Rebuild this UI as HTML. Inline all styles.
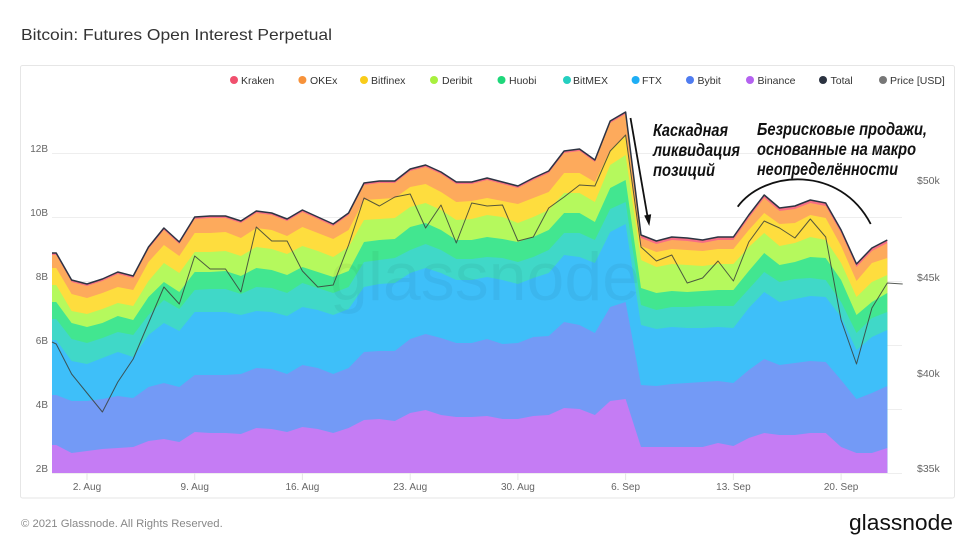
<!DOCTYPE html>
<html><head><meta charset="utf-8"><style>
html,body{margin:0;padding:0;background:#fff;}
svg{display:block;}
text{font-family:"Liberation Sans",Arial,sans-serif;}
</style></head><body>
<svg width="974" height="550" viewBox="0 0 974 550" xmlns="http://www.w3.org/2000/svg">
<rect x="0" y="0" width="974" height="550" fill="#fff"/>
<text x="21" y="40" font-size="16" fill="#333" textLength="311" lengthAdjust="spacingAndGlyphs">Bitcoin: Futures Open Interest Perpetual</text>
<rect x="20.5" y="65.5" width="934" height="432.5" rx="2" fill="#fff" stroke="#e6e6e6"/>

<!-- legend -->
<g font-size="10.5" fill="#333">
<circle cx="234" cy="80" r="4" fill="#f0506e"/><text x="241" y="84">Kraken</text>
<circle cx="302.4" cy="80" r="4" fill="#f7923a"/><text x="310" y="84">OKEx</text>
<circle cx="364" cy="80" r="4" fill="#f9cc1a"/><text x="371" y="84">Bitfinex</text>
<circle cx="434" cy="80" r="4" fill="#a8f03e"/><text x="442" y="84">Deribit</text>
<circle cx="501.5" cy="80" r="4" fill="#1ed77a"/><text x="509" y="84">Huobi</text>
<circle cx="567" cy="80" r="4" fill="#25cfc0"/><text x="573" y="84">BitMEX</text>
<circle cx="635.6" cy="80" r="4" fill="#1eaef5"/><text x="642" y="84">FTX</text>
<circle cx="690" cy="80" r="4" fill="#4f7cf0"/><text x="697.5" y="84">Bybit</text>
<circle cx="750" cy="80" r="4" fill="#b462f0"/><text x="757.5" y="84">Binance</text>
<circle cx="823" cy="80" r="4" fill="#2b3240"/><text x="830.5" y="84">Total</text>
<circle cx="883" cy="80" r="4" fill="#777"/><text x="890" y="84">Price [USD]</text>
</g>

<!-- grid -->
<g stroke="#eeeeee" stroke-width="1">
<line x1="52" y1="153.5" x2="902" y2="153.5"/>
<line x1="52" y1="217.5" x2="902" y2="217.5"/>
<line x1="52" y1="281.5" x2="902" y2="281.5"/>
<line x1="52" y1="345.5" x2="902" y2="345.5"/>
<line x1="52" y1="409.5" x2="902" y2="409.5"/>
<line x1="52" y1="473.5" x2="902" y2="473.5"/>
</g>
<g stroke="#e6e6e6" stroke-width="1">
<line x1="87" y1="473" x2="87" y2="480"/>
<line x1="194.7" y1="473" x2="194.7" y2="480"/>
<line x1="302.4" y1="473" x2="302.4" y2="480"/>
<line x1="410.2" y1="473" x2="410.2" y2="480"/>
<line x1="517.9" y1="473" x2="517.9" y2="480"/>
<line x1="625.6" y1="473" x2="625.6" y2="480"/>
<line x1="733.4" y1="473" x2="733.4" y2="480"/>
<line x1="841.1" y1="473" x2="841.1" y2="480"/>
</g>

<!-- areas -->
<path fill="#f76f84" d="M52,473 L52,253 56.2,253 71.6,280 87,284 102.4,279 117.8,272 133.2,276 148.5,247 163.9,228 179.3,242 194.7,217 210.1,216 225.5,216 240.9,221 256.3,211 271.7,213 287.1,219 302.4,210 317.8,217 333.2,224 348.6,213 364,183 379.4,181 394.8,181 410.2,169 425.6,165 441,172 456.3,182 471.7,182 487.1,178 502.5,182 517.9,186 533.3,178 548.7,171 564.1,151 579.5,149 594.9,160 610.2,121 625.6,112 641,235 656.4,241 671.8,237 687.2,238 702.6,240 718,237 733.4,237 748.8,215 764.2,195 779.5,208 794.9,206 810.3,200 825.7,203 841.1,230 856.5,264 871.9,248 887.3,240 L887.3,473Z"/>
<path fill="#fdaa5c" d="M52,473 L52,255 56.2,255 71.6,282 87,286 102.4,281 117.8,274 133.2,278 148.5,249 163.9,230 179.3,244 194.7,219 210.1,218 225.5,218 240.9,223 256.3,213 271.7,215 287.1,221 302.4,212 317.8,219 333.2,226 348.6,215 364,185 379.4,183 394.8,183 410.2,171 425.6,167 441,174 456.3,184 471.7,184 487.1,180 502.5,184 517.9,188 533.3,180 548.7,173 564.1,153 579.5,151 594.9,162 610.2,123 625.6,114 641,238 656.4,244 671.8,240 687.2,241 702.6,243 718,240 733.4,240 748.8,218 764.2,198 779.5,211 794.9,209 810.3,203 825.7,206 841.1,233 856.5,267 871.9,251 887.3,243 L887.3,473Z"/>
<path fill="#fedd3e" d="M52,473 L52,268 56.2,268 71.6,294 87,298 102.4,293 117.8,287 133.2,290 148.5,262 163.9,245 179.3,256 194.7,233 210.1,233 225.5,232 240.9,238 256.3,228 271.7,230 287.1,236 302.4,227 317.8,233 333.2,239 348.6,230 364,200 379.4,199 394.8,198 410.2,187 425.6,184 441,192 456.3,202 471.7,201 487.1,198 502.5,201 517.9,204 533.3,198 548.7,192 564.1,173 579.5,173 594.9,182 610.2,150 625.6,135 641,246 656.4,252 671.8,249 687.2,250 702.6,251 718,249 733.4,249 748.8,230 764.2,213 779.5,224 794.9,223 810.3,215 825.7,218 841.1,246 856.5,281 871.9,263 887.3,258 L887.3,473Z"/>
<path fill="#b5f95d" d="M52,473 L52,285 56.2,285 71.6,311 87,314 102.4,309 117.8,303 133.2,306 148.5,281 163.9,263 179.3,273 194.7,252 210.1,252 225.5,251 240.9,256 256.3,247 271.7,249 287.1,254 302.4,246 317.8,251 333.2,257 348.6,247 364,220 379.4,219 394.8,218 410.2,207 425.6,203 441,210 456.3,220 471.7,219 487.1,215 502.5,217 517.9,223 533.3,217 548.7,210 564.1,193 579.5,193 594.9,202 610.2,165 625.6,155 641,260 656.4,267 671.8,264 687.2,265 702.6,266 718,264 733.4,264 748.8,247 764.2,233 779.5,246 794.9,243 810.3,237 825.7,240 841.1,263 856.5,297 871.9,282 887.3,275 L887.3,473Z"/>
<path fill="#42e690" d="M52,473 L52,302 56.2,302 71.6,323 87,327 102.4,323 117.8,316 133.2,320 148.5,297 163.9,282 179.3,292 194.7,272 210.1,272 225.5,271 240.9,276 256.3,268 271.7,270 287.1,275 302.4,267 317.8,272 333.2,277 348.6,271 364,242 379.4,240 394.8,239 410.2,227 425.6,223 441,230 456.3,240 471.7,240 487.1,237 502.5,239 517.9,242 533.3,237 548.7,230 564.1,213 579.5,213 594.9,222 610.2,188 625.6,180 641,288 656.4,293 671.8,291 687.2,292 702.6,291 718,290 733.4,290 748.8,271 764.2,253 779.5,265 794.9,262 810.3,257 825.7,258 841.1,280 856.5,315 871.9,302 887.3,293 L887.3,473Z"/>
<path fill="#40d8c8" d="M52,473 L52,319 56.2,319 71.6,339 87,343 102.4,338 117.8,332 133.2,335 148.5,315 163.9,300 179.3,309 194.7,290 210.1,289 225.5,289 240.9,294 256.3,287 271.7,288 287.1,293 302.4,283 317.8,288 333.2,293 348.6,287 364,262 379.4,260 394.8,258 410.2,250 425.6,244 441,250 456.3,259 471.7,259 487.1,257 502.5,258 517.9,262 533.3,257 548.7,250 564.1,233 579.5,233 594.9,240 610.2,209 625.6,202 641,305 656.4,310 671.8,307 687.2,307 702.6,306 718,306 733.4,306 748.8,289 764.2,272 779.5,282 794.9,279 810.3,278 825.7,280 841.1,302 856.5,333 871.9,318 887.3,312 L887.3,473Z"/>
<path fill="#3ebff9" d="M52,473 L52,340 56.2,340 71.6,361 87,364 102.4,358 117.8,352 133.2,357 148.5,335 163.9,323 179.3,331 194.7,312 210.1,312 225.5,312 240.9,315 256.3,311 271.7,312 287.1,316 302.4,307 317.8,310 333.2,315 348.6,309 364,287 379.4,284 394.8,283 410.2,273 425.6,268 441,273 456.3,280 471.7,280 487.1,277 502.5,280 517.9,284 533.3,278 548.7,273 564.1,255 579.5,257 594.9,263 610.2,232 625.6,224 641,325 656.4,329 671.8,327 687.2,328 702.6,328 718,327 733.4,328 748.8,308 764.2,292 779.5,302 794.9,299 810.3,296 825.7,297 841.1,317 856.5,350 871.9,337 887.3,330 L887.3,473Z"/>
<path fill="#739af6" d="M52,473 L52,395 56.2,395 71.6,401 87,401 102.4,399 117.8,396 133.2,398 148.5,387 163.9,383 179.3,387 194.7,375 210.1,375 225.5,375 240.9,374 256.3,368 271.7,369 287.1,374 302.4,365 317.8,368 333.2,374 348.6,368 364,352 379.4,351 394.8,351 410.2,339 425.6,334 441,338 456.3,343 471.7,343 487.1,339 502.5,344 517.9,343 533.3,337 548.7,336 564.1,322 579.5,325 594.9,333 610.2,307 625.6,302 641,385 656.4,386 671.8,384 687.2,383 702.6,382 718,381 733.4,383 748.8,370 764.2,359 779.5,365 794.9,363 810.3,361 825.7,362 841.1,380 856.5,399 871.9,393 887.3,386 L887.3,473Z"/>
<path fill="#c57cf4" d="M52,473 L52,445 56.2,445 71.6,453 87,451 102.4,449 117.8,448 133.2,447 148.5,441 163.9,439 179.3,442 194.7,432 210.1,433 225.5,433 240.9,434 256.3,428 271.7,429 287.1,432 302.4,427 317.8,429 333.2,433 348.6,428 364,420 379.4,419 394.8,421 410.2,413 425.6,410 441,415 456.3,417 471.7,417 487.1,416 502.5,419 517.9,419 533.3,416 548.7,415 564.1,408 579.5,409 594.9,415 610.2,401 625.6,399 641,447 656.4,447 671.8,447 687.2,447 702.6,447 718,443 733.4,446 748.8,438 764.2,433 779.5,435 794.9,435 810.3,433 825.7,433 841.1,447 856.5,453 871.9,453 887.3,448 L887.3,473Z"/>

<!-- watermark -->
<text x="330" y="300" font-size="68" fill="#000" fill-opacity="0.045" textLength="310" lengthAdjust="spacingAndGlyphs">glassnode</text>

<!-- total line -->
<polyline fill="none" stroke="#2d3442" stroke-width="1.5" stroke-linejoin="round" points="52,253 56.2,253 71.6,280 87,284 102.4,279 117.8,272 133.2,276 148.5,247 163.9,228 179.3,242 194.7,217 210.1,216 225.5,216 240.9,221 256.3,211 271.7,213 287.1,219 302.4,210 317.8,217 333.2,224 348.6,213 364,183 379.4,181 394.8,181 410.2,169 425.6,165 441,172 456.3,182 471.7,182 487.1,178 502.5,182 517.9,186 533.3,178 548.7,171 564.1,151 579.5,149 594.9,160 610.2,121 625.6,112 641,235 656.4,241 671.8,237 687.2,238 702.6,240 718,237 733.4,237 748.8,215 764.2,195 779.5,208 794.9,206 810.3,200 825.7,203 841.1,230 856.5,264 871.9,248 887.3,240"/>

<!-- price line -->
<polyline fill="none" stroke="#3a3f3a" stroke-opacity="0.85" stroke-width="1" stroke-linejoin="round" points="52,342 56.2,344 71.6,374 87,393 102.4,412 117.8,382 133.2,359 148.5,323 163.9,287 179.3,304 194.7,256 210.1,269 225.5,269 240.9,292 256.3,227 271.7,241 287.1,241 302.4,271 317.8,287 333.2,285 348.6,245 364,198 379.4,206 394.8,197 410.2,194 425.6,228 441,205 456.3,243 471.7,203 487.1,206 502.5,205 517.9,241 533.3,237 548.7,208 564.1,197 579.5,185 594.9,186 610.2,151 625.6,135 641,247 656.4,261 671.8,255 687.2,283 702.6,278 718,261 733.4,281 748.8,242 764.2,221 779.5,228 794.9,238 810.3,219 825.7,237 841.1,320 856.5,364 871.9,308 887.3,283 902.7,284"/>

<!-- axis labels -->
<g font-size="10" fill="#666" text-anchor="end">
<text x="48" y="152">12B</text>
<text x="48" y="216">10B</text>
<text x="48" y="280">8B</text>
<text x="48" y="344">6B</text>
<text x="48" y="408">4B</text>
<text x="48" y="472">2B</text>
</g>
<g font-size="10.5" fill="#666">
<text x="917" y="184">$50k</text>
<text x="917" y="281">$45k</text>
<text x="917" y="377">$40k</text>
<text x="917" y="472">$35k</text>
</g>
<g font-size="10" fill="#666" text-anchor="middle">
<text x="87" y="490">2. Aug</text>
<text x="194.7" y="490">9. Aug</text>
<text x="302.4" y="490">16. Aug</text>
<text x="410.2" y="490">23. Aug</text>
<text x="517.9" y="490">30. Aug</text>
<text x="625.6" y="490">6. Sep</text>
<text x="733.4" y="490">13. Sep</text>
<text x="841.1" y="490">20. Sep</text>
</g>

<!-- annotations -->
<g font-family="'Liberation Sans', 'Noto Sans CJK SC', sans-serif" font-size="17.5" font-weight="bold" font-style="italic" fill="#111">
<text x="653" y="136" textLength="75" lengthAdjust="spacingAndGlyphs">Каскадная</text>
<text x="653" y="156" textLength="87" lengthAdjust="spacingAndGlyphs">ликвидация</text>
<text x="653" y="176" textLength="62" lengthAdjust="spacingAndGlyphs">позиций</text>
<text x="757" y="135" textLength="170" lengthAdjust="spacingAndGlyphs">Безрисковые продажи,</text>
<text x="757" y="155" textLength="159" lengthAdjust="spacingAndGlyphs">основанные на макро</text>
<text x="757" y="175" textLength="141" lengthAdjust="spacingAndGlyphs">неопределённости</text>
</g>
<line x1="630.5" y1="118" x2="647.6" y2="217" stroke="#111" stroke-width="1.8"/>
<polygon points="649.3,226 644.2,215.5 651.2,214.3" fill="#111"/>
<path d="M737.7,206.7 C765,170 840,165 870.7,224" fill="none" stroke="#111" stroke-width="1.8"/>

<!-- footer -->
<text x="21" y="527" font-size="11.3" fill="#888">© 2021 Glassnode. All Rights Reserved.</text>
<text x="849" y="530" font-size="22" fill="#111" textLength="104" lengthAdjust="spacingAndGlyphs">glassnode</text>
</svg>
</body></html>
